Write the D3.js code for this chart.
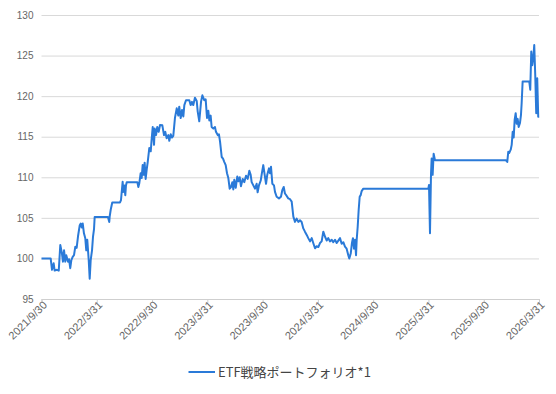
<!DOCTYPE html>
<html>
<head>
<meta charset="utf-8">
<script src="https://d3js.org/d3.v7.min.js"></script>
<style>
    body { margin: 0; background: #fff; }
    svg { display: block; }
</style>
</head>
<body>
<svg width="556" height="394"></svg>
<script>
    // time as decimal year
    var years = [
        2021.750, 2021.833, 2021.845, 2021.860, 2021.869, 2021.890, 2021.906, 2021.920, 2021.935, 2021.944,
        2021.954, 2021.965, 2021.974, 2021.990, 2021.999, 2022.010, 2022.020, 2022.032, 2022.044, 2022.056,
        2022.068, 2022.080, 2022.096, 2022.105, 2022.114, 2022.123, 2022.134, 2022.146, 2022.155, 2022.164,
        2022.177, 2022.186, 2022.195, 2022.207, 2022.216, 2022.225, 2022.231, 2022.351, 2022.363, 2022.367,
        2022.376, 2022.390, 2022.460, 2022.469, 2022.484, 2022.490, 2022.499, 2022.508, 2022.514, 2022.521,
        2022.617, 2022.626, 2022.635, 2022.647, 2022.656, 2022.665, 2022.674, 2022.683, 2022.692, 2022.702,
        2022.711, 2022.725, 2022.738, 2022.747, 2022.756, 2022.768, 2022.774, 2022.786, 2022.797, 2022.810,
        2022.822, 2022.843, 2022.858, 2022.870, 2022.882, 2022.897, 2022.906, 2022.919, 2022.930, 2022.942,
        2022.957, 2022.973, 2022.987, 2022.996, 2023.009, 2023.021, 2023.033, 2023.042, 2023.057, 2023.087,
        2023.099, 2023.111, 2023.123, 2023.138, 2023.154, 2023.163, 2023.177, 2023.193, 2023.205, 2023.222,
        2023.235, 2023.247, 2023.259, 2023.268, 2023.280, 2023.289, 2023.304, 2023.319, 2023.328, 2023.344,
        2023.355, 2023.365, 2023.380, 2023.392, 2023.403, 2023.416, 2023.428, 2023.440, 2023.452, 2023.464,
        2023.476, 2023.485, 2023.494, 2023.507, 2023.521, 2023.530, 2023.543, 2023.554, 2023.570, 2023.584,
        2023.600, 2023.615, 2023.630, 2023.642, 2023.651, 2023.666, 2023.681, 2023.696, 2023.705, 2023.717,
        2023.733, 2023.742, 2023.756, 2023.772, 2023.781, 2023.792, 2023.808, 2023.817, 2023.826, 2023.838,
        2023.853, 2023.862, 2023.877, 2023.898, 2023.916, 2023.928, 2023.941, 2023.952, 2023.968, 2023.982,
        2023.998, 2024.013, 2024.028, 2024.043, 2024.058, 2024.073, 2024.088, 2024.103, 2024.118, 2024.133,
        2024.149, 2024.163, 2024.179, 2024.194, 2024.208, 2024.224, 2024.239, 2024.254, 2024.269, 2024.284,
        2024.299, 2024.314, 2024.330, 2024.344, 2024.359, 2024.375, 2024.389, 2024.405, 2024.420, 2024.435,
        2024.450, 2024.465, 2024.480, 2024.495, 2024.510, 2024.525, 2024.534, 2024.547, 2024.558, 2024.567,
        2024.577, 2024.586, 2024.595, 2024.601, 2024.610, 2024.619, 2024.628, 2024.637, 2024.646, 2024.661,
        2025.249, 2025.255, 2025.264, 2025.273, 2025.279, 2025.288, 2025.297, 2025.309, 2025.951, 2025.963,
        2025.972, 2025.981, 2025.994, 2026.003, 2026.012, 2026.021, 2026.030, 2026.039, 2026.048, 2026.057,
        2026.066, 2026.078, 2026.087, 2026.093, 2026.102, 2026.162, 2026.171, 2026.180, 2026.189, 2026.198,
        2026.207, 2026.216, 2026.225, 2026.234, 2026.243, 2026.250
    ];
    var values = [
        100.0, 100.0, 98.6, 99.4, 98.5, 98.6, 98.5, 101.65, 100.6, 99.6,
        101.0, 99.6, 100.4, 99.6, 99.9, 98.8, 99.8, 100.2, 100.4, 101.45,
        101.3, 102.7, 104.1, 104.3, 103.8, 104.3, 103.1, 102.5, 101.0, 102.3,
        99.8, 97.5, 99.8, 101.0, 102.7, 103.6, 105.1, 105.1, 104.5, 105.2,
        106.0, 106.9, 106.9, 107.2, 109.45, 108.2, 109.0, 107.8, 109.0, 109.4,
        109.4, 108.8, 109.3, 110.5, 109.9, 111.5, 110.3, 111.8, 109.8, 111.0,
        111.9, 113.6, 113.2, 114.8, 116.2, 114.0, 116.0, 115.2, 116.2, 115.6,
        116.45, 116.4, 115.2, 115.6, 114.8, 115.2, 114.5, 115.3, 114.9, 115.1,
        117.3, 118.5, 117.6, 118.7, 117.3, 118.3, 117.5, 118.9, 119.5, 119.5,
        118.9, 119.3, 118.9, 119.8, 119.4, 118.1, 116.9, 119.3, 120.1, 119.5,
        119.6, 117.3, 118.2, 117.0, 117.6, 116.2, 116.0, 116.2, 115.6, 115.2,
        115.3, 114.4, 112.5, 112.3, 111.9, 111.5, 110.5, 109.9, 108.6, 108.8,
        109.4, 108.5, 109.7, 108.7, 110.1, 109.5, 110.0, 108.9, 109.8, 109.4,
        110.2, 109.8, 110.8, 110.3, 109.4, 109.0, 108.6, 109.2, 108.15, 109.0,
        109.6, 110.4, 111.5, 110.0, 109.2, 110.3, 111.1, 110.5, 111.3, 109.2,
        109.0, 108.2, 107.6, 107.4, 107.6, 108.4, 108.8, 108.0, 107.7, 107.4,
        107.3, 107.0, 105.15, 104.5, 104.9, 104.5, 104.7, 104.5, 103.7, 103.3,
        102.9, 102.5, 102.1, 102.5, 101.9, 101.25, 101.5, 101.4, 101.9, 102.1,
        103.3, 102.7, 102.2, 102.5, 102.1, 102.3, 102.0, 102.3, 101.9, 102.2,
        102.5, 101.8, 102.0, 101.45, 101.2, 100.4, 100.0, 100.6, 101.9, 102.5,
        101.2, 102.3, 100.4, 102.3, 103.9, 106.0, 107.6, 107.8, 108.3, 108.6,
        108.6, 109.05, 103.1, 110.3, 112.3, 110.3, 112.9, 112.1, 112.1, 111.9,
        113.15, 113.0, 113.4, 114.0, 115.6, 114.9, 117.1, 117.9, 116.6, 117.2,
        116.2, 116.7, 117.7, 119.1, 121.8, 121.8, 120.8, 125.5, 123.8, 124.7,
        126.3, 122.6, 117.9, 122.2, 117.45, 117.5
    ];
    var tickYears = [2021.75, 2022.25, 2022.75, 2023.25, 2023.75, 2024.25, 2024.75, 2025.25, 2025.75, 2026.25];
    var tickLabels = ['2021/9/30', '2022/3/31', '2022/9/30', '2023/3/31', '2023/9/30', '2024/3/31', '2024/9/30', '2025/3/31', '2025/9/30', '2026/3/31'];
    var yTicks = [95, 100, 105, 110, 115, 120, 125, 130];
    var seriesName = 'ETF戦略ポートフォリオ*1';

    var svg = d3.select('svg');
    var x = d3.scaleLinear().domain([2021.75, 2026.25]).range([41.5, 539]);
    var y = d3.scaleLinear().domain([95, 130]).range([299, 15]);

    // gridlines + y labels
    var yAxis = svg.append('g')
        .attr('transform', 'translate(41.5,0)')
        .call(d3.axisLeft(y).tickValues(yTicks).tickSize(-497.5).tickPadding(8));
    yAxis.select('.domain').remove();
    yAxis.selectAll('line').attr('stroke', '#d9d9d9');
    yAxis.selectAll('text')
        .style('font-family', 'Arial, "Liberation Sans", sans-serif')
        .style('font-size', '10px')
        .attr('fill', '#666');

    // x axis
    var xAxis = svg.append('g')
        .attr('transform', 'translate(0,299)')
        .call(d3.axisBottom(x).tickValues(tickYears).tickSize(4)
            .tickFormat(function (d, i) { return tickLabels[i]; }));
    xAxis.select('.domain').attr('stroke', '#cfcfcf');
    xAxis.selectAll('line').attr('stroke', '#cfcfcf');
    xAxis.selectAll('text')
        .style('font-family', 'Arial, "Liberation Sans", sans-serif')
        .style('font-size', '11px')
        .attr('fill', '#666')
        .attr('text-anchor', 'end')
        .attr('transform', 'translate(3,4) rotate(-45)')
        .attr('dy', '0.35em')
        .attr('y', 0)
        .attr('x', 0);

    var pts = years.map(function (t, i) { return [t, values[i]]; });
    svg.append('path')
        .datum(pts)
        .attr('fill', 'none')
        .attr('stroke', '#2a7ad8')
        .attr('stroke-width', 2)
        .attr('stroke-linejoin', 'round')
        .attr('d', d3.line()
            .x(function (d) { return x(d[0]); })
            .y(function (d) { return y(d[1]); }));

    // legend
    var lg = svg.append('g');
    lg.append('line')
        .attr('x1', 188.5).attr('x2', 215)
        .attr('y1', 372).attr('y2', 372)
        .attr('stroke', '#2a7ad8').attr('stroke-width', 2);
    lg.append('text')
        .attr('x', 218).attr('y', 377)
        .style('font-family', '"Noto Sans CJK JP", sans-serif')
        .style('font-size', '13px')
        .attr('fill', '#444')
        .text(seriesName);
</script>
</body>
</html>
